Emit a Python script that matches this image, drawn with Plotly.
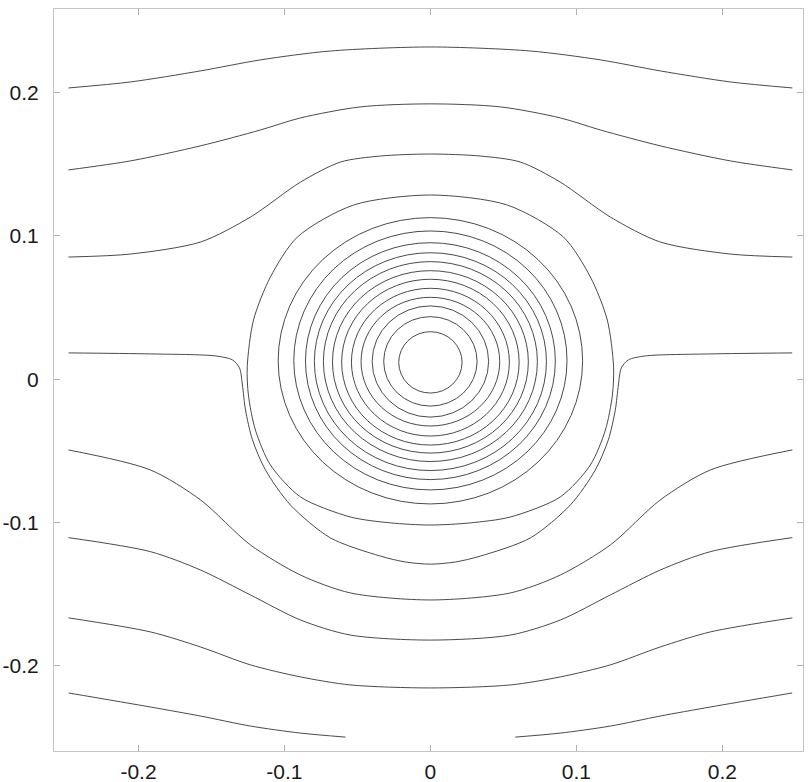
import plotly.graph_objects as go

# ---- axis ticks ----
x_ticks = [-0.2, -0.1, 0, 0.1, 0.2]
x_tick_text = ["-0.2", "-0.1", "0", "0.1", "0.2"]
y_ticks = [-0.2, -0.1, 0, 0.1, 0.2]
y_tick_text = ["-0.2", "-0.1", "0", "0.1", "0.2"]

# ---- open streamlines (symmetric about x = 0), left half up to x = 0 ----
half_x = [-0.248, -0.2055, -0.1575, -0.1164, -0.0685, 0.0]
line_a_y = [0.2033, 0.2075, 0.2152, 0.2229, 0.2291, 0.2319]

line_b_x = [-0.248, -0.2055, -0.1575, -0.1164, -0.0890, -0.0479, 0.0]
line_b_y = [0.1461, 0.1524, 0.1629, 0.1740, 0.1824, 0.1901, 0.1922]

line_c_x = [-0.248, -0.2055, -0.1575, -0.1233, -0.0890, -0.0616, -0.0342, 0.0]
line_c_y = [0.0853, 0.0874, 0.0958, 0.1132, 0.1376, 0.1516, 0.1558, 0.1572]

line_d_x = [-0.2479, -0.1918, -0.1473, -0.1356, -0.1308, -0.1288, -0.1267,
            -0.1219, -0.1130, -0.0959, -0.0685, -0.0342, -0.0171, 0.0]
line_d_y = [0.0184, 0.0177, 0.0163, 0.0135, 0.0079, -0.0040, -0.0214,
            -0.0423, -0.0633, -0.0877, -0.1107, -0.1234, -0.1275, -0.1290]

lower_x = [-0.248, -0.1918, -0.1575, -0.1233, -0.0890, -0.0548, 0.0]
line_e_y = [-0.0493, -0.0633, -0.0842, -0.1156, -0.1366, -0.1491, -0.1540]
line_f_y = [-0.1105, -0.1203, -0.1331, -0.1505, -0.1680, -0.1785, -0.1820]
line_g_y = [-0.1665, -0.1763, -0.1868, -0.1993, -0.2077, -0.2133, -0.2154]

line_h_x = [-0.2479, -0.1918, -0.1575, -0.1233, -0.0890, -0.0582]
line_h_y = [-0.2189, -0.2287, -0.2350, -0.2420, -0.2469, -0.2497]

# ---- outer closed streamline (left half, top to bottom) ----
loop_x = [0.0, -0.0527, -0.0911, -0.1096, -0.1212, -0.1255, -0.1247,
          -0.1199, -0.1096, -0.0890, -0.0548, -0.0274, 0.0]
loop_y = [0.1286, 0.1216, 0.0993, 0.0714, 0.0414, 0.0088, -0.0110,
          -0.0354, -0.0598, -0.0821, -0.0961, -0.1002, -0.1017]

# ---- inner closed streamlines: half-width, top, bottom ----
ring_halfwidth = [0.0217, 0.0320, 0.0399, 0.0475, 0.0541, 0.0608,
                  0.0671, 0.0733, 0.0795, 0.0856, 0.0936, 0.1043]
ring_top = [0.0332, 0.0437, 0.0512, 0.0572, 0.0635, 0.0698,
            0.0758, 0.0821, 0.0883, 0.0953, 0.1035, 0.1128]
ring_bottom = [-0.0096, -0.0187, -0.0264, -0.0326, -0.0396, -0.0459,
               -0.0515, -0.0574, -0.0637, -0.0700, -0.0772, -0.0870]

INK = "#363636"
LINE = dict(color=INK, width=0.9, shape="spline", smoothing=0.8)


def mirror(xs, ys):
    """full symmetric curve from the left half (ends at x = 0)"""
    fx = list(xs) + [-v for v in reversed(xs[:-1])]
    fy = list(ys) + list(reversed(ys[:-1]))
    return fx, fy


fig = go.Figure()

for xs, ys in [(half_x, line_a_y), (line_b_x, line_b_y), (line_c_x, line_c_y),
               (line_d_x, line_d_y), (lower_x, line_e_y), (lower_x, line_f_y),
               (lower_x, line_g_y)]:
    fx, fy = mirror(xs, ys)
    fig.add_trace(go.Scatter(x=fx, y=fy, mode="lines", line=LINE,
                             hoverinfo="skip", showlegend=False))

# bottom line leaves the domain: two separate pieces
fig.add_trace(go.Scatter(x=line_h_x, y=line_h_y, mode="lines", line=LINE,
                         hoverinfo="skip", showlegend=False))
fig.add_trace(go.Scatter(x=[-v for v in line_h_x], y=line_h_y, mode="lines",
                         line=LINE, hoverinfo="skip", showlegend=False))

# outer closed loop
lx = list(loop_x) + [-v for v in reversed(loop_x[:-1])]
ly = list(loop_y) + list(reversed(loop_y[:-1]))
fig.add_trace(go.Scatter(x=lx, y=ly, mode="lines", line=LINE,
                         hoverinfo="skip", showlegend=False))

for hw, top, bot in zip(ring_halfwidth, ring_top, ring_bottom):
    fig.add_shape(type="circle", xref="x", yref="y",
                  x0=-hw, x1=hw, y0=bot, y1=top,
                  line=dict(color=INK, width=0.9))

axis_common = dict(
    showgrid=False, zeroline=False, showline=True, linecolor="#c4c4c4",
    linewidth=1, mirror="allticks", ticks="inside", ticklen=6,
    tickcolor="#b0b0b0", automargin=False,
    tickfont=dict(family="Liberation Sans, Arial", size=21, color="#1a1a1a"),
)

fig.update_layout(
    width=808, height=782,
    margin=dict(l=54, r=5, t=9, b=31),
    paper_bgcolor="white", plot_bgcolor="white",
    hovermode=False,
    xaxis=dict(range=[-0.2579, 0.2553], tickvals=x_ticks, ticktext=x_tick_text,
               ticklabelstandoff=2, **axis_common),
    yaxis=dict(range=[-0.2594, 0.2584], tickvals=y_ticks, ticktext=y_tick_text,
               ticklabelstandoff=10, **axis_common),
)

# remove the default 8px page margin so the figure fills the window exactly
fig.write_html("out.html", config={"displayModeBar": False},
               post_script="document.body.style.margin='0';")
